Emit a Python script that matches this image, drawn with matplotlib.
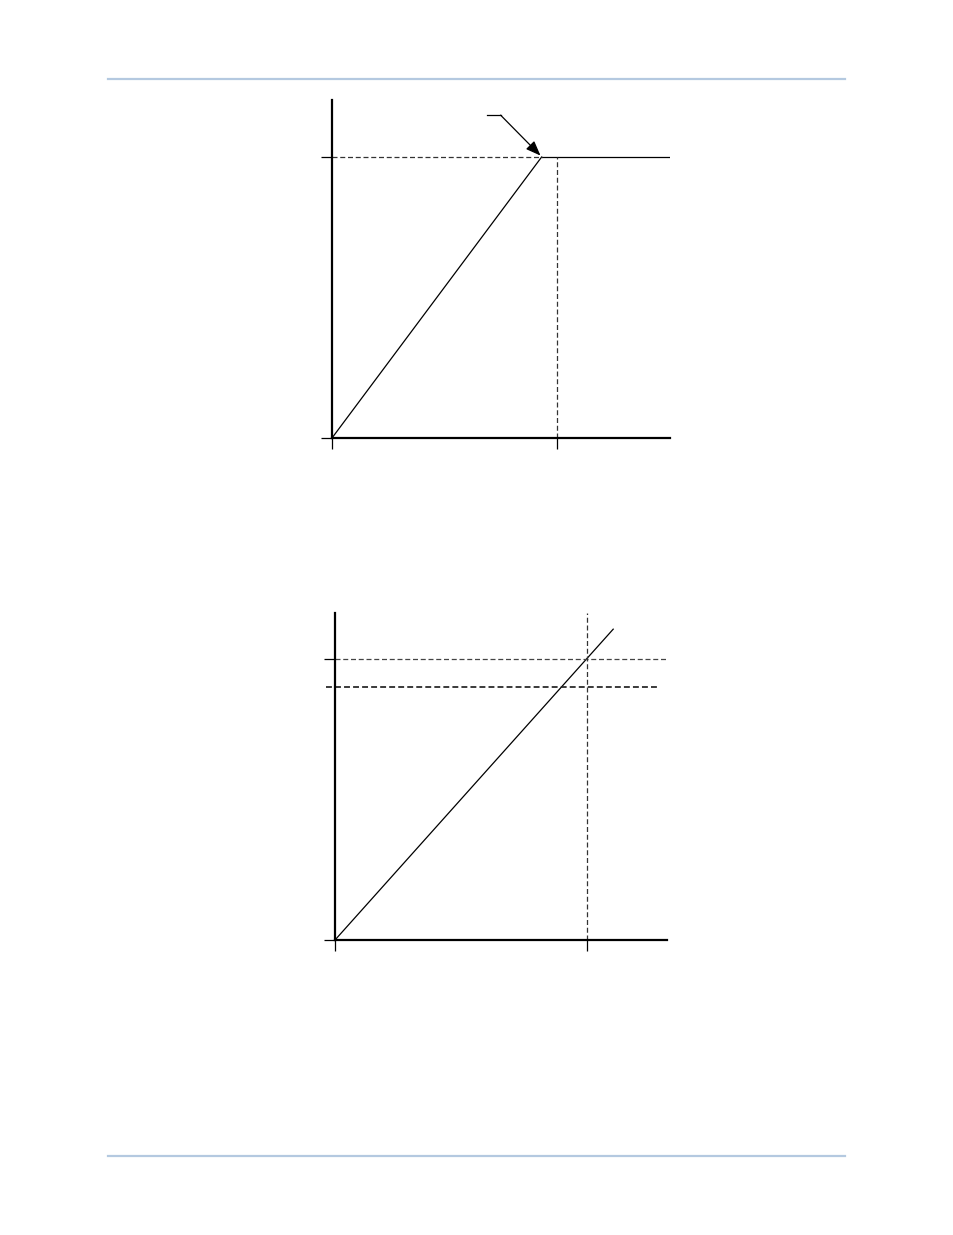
import matplotlib
matplotlib.use('Agg')
import matplotlib.pyplot as plt

# page geometry (pixels at 100 dpi)
W, H = 954, 1235

# --- top diagram: pickup curve with knee (units: y tick = 1.0) ---
top_lim = (1.203, 1.203)
top_knee = (0.746, 1.0)
top_dashed_x = 0.80
top_xticks = [0.0, top_dashed_x]
top_yticks = [0.0, 1.0]
top_arrow_start = (0.551, 1.149)
top_arrow_bend = (0.600, 1.149)

# --- bottom diagram: linear ramp with two levels ---
bot_lim = (1.179, 1.164)
bot_ramp_end = (0.989, 1.105)
bot_dashed_x = 0.897
bot_level_hi = 1.0
bot_level_lo = 0.899
bot_level_lo_span = (-0.032, 1.149)
bot_xticks = [0.0, bot_dashed_x]
bot_yticks = [0.0, bot_level_hi]

fig = plt.figure(figsize=(W / 100, H / 100), dpi=100)

# header / footer rules
page = fig.add_axes([0, 0, 1, 1])
page.set_xlim(0, W)
page.set_ylim(H, 0)
page.axis('off')
rule_color = '#B4C9E0'
page.plot([108, 845], [79, 79], color=rule_color, lw=1.6)
page.plot([108, 845], [1156, 1156], color=rule_color, lw=1.6)

dash = (0, (4, 2.2))


def make_axes(x0, y0, xmax, ymax, unit):
    # x0, y0 = origin pixel, unit = pixels per data unit
    w = xmax * unit
    h = ymax * unit
    ax = fig.add_axes([x0 / W, 1 - y0 / H, w / W, h / H])
    ax.set_xlim(0, xmax)
    ax.set_ylim(0, ymax)
    ax.patch.set_alpha(0)
    for s in ['top', 'right']:
        ax.spines[s].set_visible(False)
    for s in ['left', 'bottom']:
        ax.spines[s].set_linewidth(1.6)
    ax.tick_params(direction='out', length=8, width=0.9,
                   labelbottom=False, labelleft=False)
    return ax


# top diagram
ax1 = make_axes(332, 438, top_lim[0], top_lim[1], 281)
ax1.set_xticks(top_xticks)
ax1.set_yticks(top_yticks)
ax1.plot([0, top_knee[0]], [0, top_knee[1]], color='black', lw=0.9)
ax1.plot([top_knee[0], top_lim[0]], [top_knee[1], top_knee[1]], color='black', lw=0.9)
ax1.plot([0, top_knee[0]], [top_knee[1], top_knee[1]], color='#333333', lw=0.9, ls=dash)
ax1.plot([top_dashed_x, top_dashed_x], [0, top_knee[1]], color='#333333', lw=0.9, ls=dash)
ax1.plot([top_arrow_start[0], top_arrow_bend[0]], [top_arrow_start[1], top_arrow_bend[1]],
         color='black', lw=0.9)
ax1.annotate('', xy=(top_knee[0] - 0.004, top_knee[1] + 0.005), xytext=top_arrow_bend,
             arrowprops=dict(arrowstyle='-|>,head_length=0.9,head_width=0.35',
                             color='black', lw=0.9, shrinkA=0, shrinkB=0))

# bottom diagram
ax2 = make_axes(335, 940, bot_lim[0], bot_lim[1], 281.3)
ax2.set_xticks(bot_xticks)
ax2.set_yticks(bot_yticks)
ax2.plot([0, bot_ramp_end[0]], [0, bot_ramp_end[1]], color='black', lw=0.9)
ax2.plot([0, bot_lim[0]], [bot_level_hi, bot_level_hi], color='#444444', lw=0.9, ls=dash)
ax2.plot(bot_level_lo_span, [bot_level_lo, bot_level_lo], color='#222222', lw=1.25,
         ls=(0, (3.4, 1.8)), clip_on=False)
ax2.plot([bot_dashed_x, bot_dashed_x], [0, bot_lim[1]], color='#333333', lw=0.9, ls=dash)

fig.savefig('out.png', dpi=100)
